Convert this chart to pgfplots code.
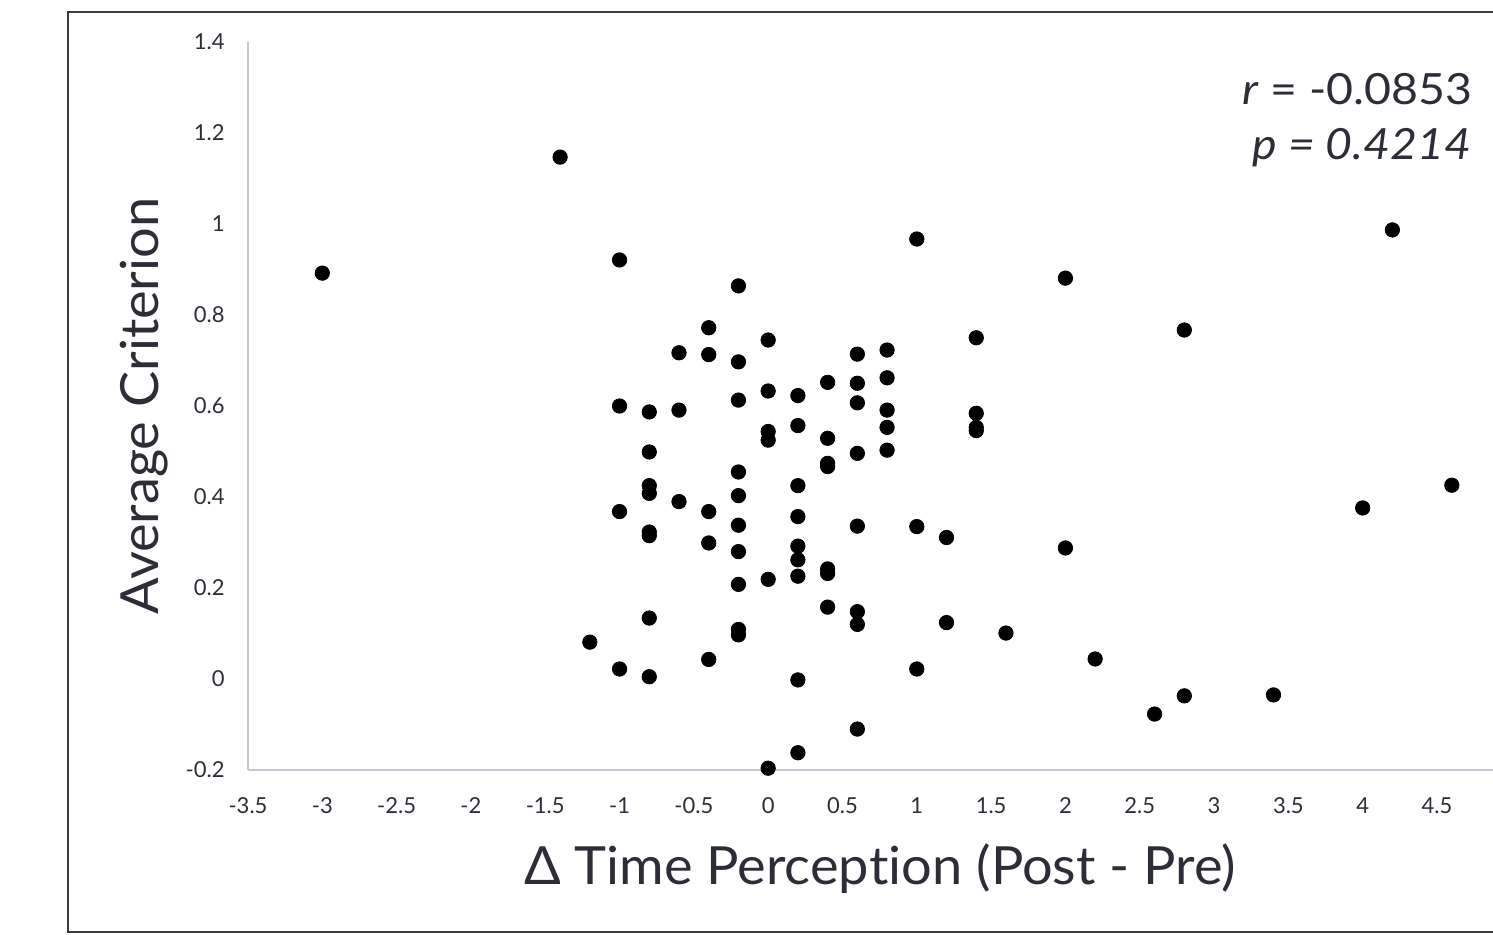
\documentclass[border=0pt]{standalone}
\usepackage{fontspec}
\setmainfont{Lato}[Ligatures=NoCommon]
\newfontfamily\widefont{Lato}[Ligatures=NoCommon, FakeStretch=1.03]
\newfontfamily\annfont{Lato}[Ligatures=NoCommon, FakeStretch=1.08]
\usepackage{pgfplots}
\pgfplotsset{compat=1.18}
\definecolor{axgray}{RGB}{198,198,210}
\definecolor{txt}{RGB}{45,45,55}
\definecolor{frm}{RGB}{60,60,60}
\begin{document}
\begin{tikzpicture}
\begin{axis}[
  name=ax,
  scale only axis,
  width=622.5pt, height=364pt,
  xmin=-3.5, xmax=4.877, ymin=-0.2, ymax=1.4,
  axis lines*=left,
  axis line style={axgray, line width=1pt},
  major tick length=0pt,
  xtick={-3.5,-3,-2.5,-2,-1.5,-1,-0.5,0,0.5,1,1.5,2,2.5,3,3.5,4,4.5},
  xticklabels={-3.5,-3,-2.5,-2,-1.5,-1,-0.5,0,0.5,1,1.5,2,2.5,3,3.5,4,4.5},
  ytick={-0.2,0,0.2,0.4,0.6,0.8,1,1.2,1.4},
  yticklabels={-0.2,0,0.2,0.4,0.6,0.8,1,1.2,1.4},
  tick label style={font=\fontsize{11}{13}\selectfont, text=txt, inner sep=0pt},
  xticklabel style={anchor=north, yshift=-13.5pt},
  yticklabel style={anchor=east, xshift=-11.5pt},
  xlabel={Δ Time Percep\kern0pt tion (Post - Pre)},
  ylabel={Average Criterion},
  xlabel style={at={(axis description cs:0.5076,-0.1566)}, anchor=base, font=\widefont\fontsize{26.3}{30}\selectfont, text=txt},
  ylabel style={at={(axis description cs:-0.0715,0.5)}, anchor=base, rotate=0, font=\widefont\fontsize{26.3}{30}\selectfont, text=txt},
  clip=false,
]
\addplot[only marks, mark=*, mark size=3.6pt, black] coordinates {
(-3,0.892) (-1.4,1.147) (-1.2,0.081)
(-1,0.921) (-1,0.600) (-1,0.368) (-1,0.022)
(-0.8,0.587) (-0.8,0.499) (-0.8,0.425) (-0.8,0.408) (-0.8,0.323) (-0.8,0.315) (-0.8,0.134) (-0.8,0.005)
(-0.6,0.717) (-0.6,0.591) (-0.6,0.390)
(-0.4,0.772) (-0.4,0.713) (-0.4,0.368) (-0.4,0.299) (-0.4,0.043)
(-0.2,0.864) (-0.2,0.697) (-0.2,0.613) (-0.2,0.455) (-0.2,0.403) (-0.2,0.338) (-0.2,0.280) (-0.2,0.208) (-0.2,0.109) (-0.2,0.097)
(0,0.745) (0,0.633) (0,0.544) (0,0.525) (0,0.219) (0,-0.196)
(0.2,0.623) (0.2,0.557) (0.2,0.425) (0.2,0.357) (0.2,0.292) (0.2,0.262) (0.2,0.226) (0.2,-0.002) (0.2,-0.162)
(0.4,0.652) (0.4,0.529) (0.4,0.474) (0.4,0.467) (0.4,0.242) (0.4,0.232) (0.4,0.158)
(0.6,0.714) (0.6,0.650) (0.6,0.607) (0.6,0.496) (0.6,0.336) (0.6,0.148) (0.6,0.120) (0.6,-0.110)
(0.8,0.723) (0.8,0.662) (0.8,0.591) (0.8,0.553) (0.8,0.503)
(1.0,0.967) (1.0,0.335) (1.0,0.022)
(1.2,0.311) (1.2,0.124)
(1.4,0.750) (1.4,0.584) (1.4,0.553) (1.4,0.546)
(1.6,0.101)
(2.0,0.881) (2.0,0.288)
(2.2,0.044)
(2.6,-0.077)
(2.8,0.767) (2.8,-0.037)
(3.4,-0.035)
(4.0,0.376)
(4.2,0.987)
(4.6,0.426)
};
\node[anchor=base east, inner sep=0pt, text=txt, font=\annfont\fontsize{21.5}{25}\selectfont] at (axis description cs:0.9839,0.9135) {\textit{r} = -0.0853};
\node[anchor=base east, inner sep=0pt, text=txt, font=\annfont\fontsize{21.5}{25}\selectfont] at (axis description cs:0.9830,0.838) {\textit{p = 0.4214}};
\end{axis}
\draw[frm, line width=1pt] (640pt,379pt) -- (-90pt,379pt) -- (-90pt,-81pt) -- (640pt,-81pt);
\pgfresetboundingbox
\useasboundingbox (-124pt,-82pt) rectangle (622.5pt,385pt);
\end{tikzpicture}
\end{document}
